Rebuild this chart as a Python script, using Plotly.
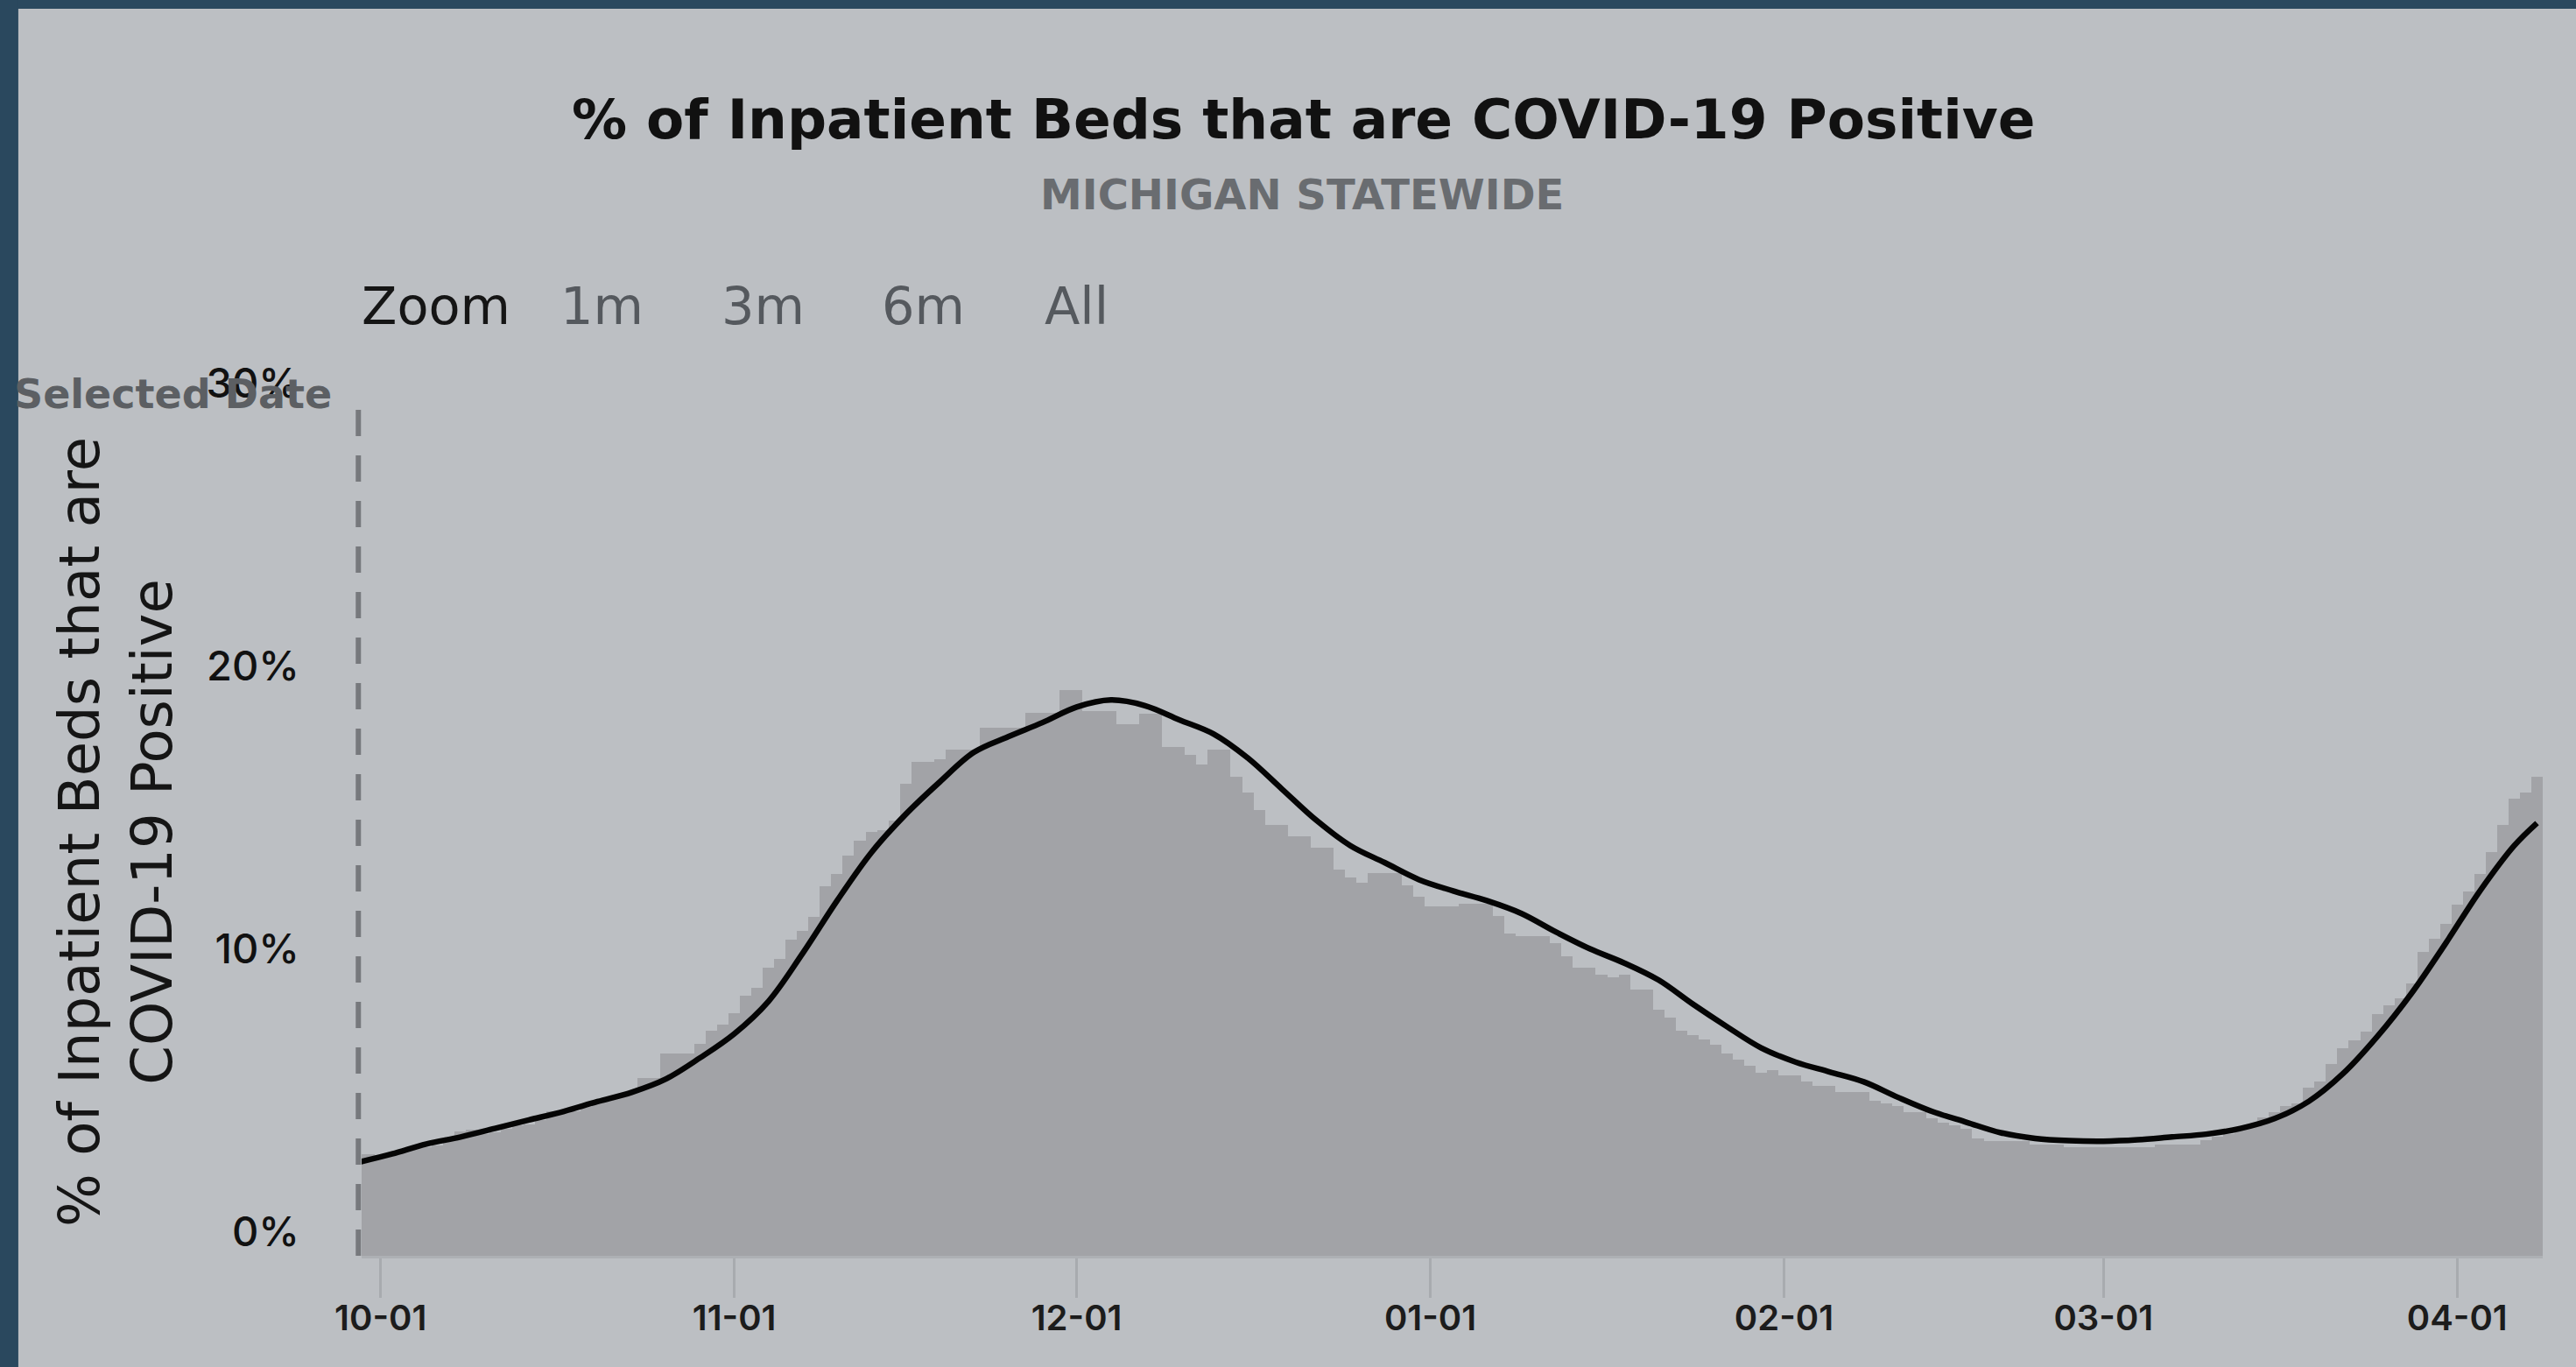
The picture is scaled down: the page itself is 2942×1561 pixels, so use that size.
import pandas as pd
import plotly.graph_objects as go

# ---------------- data ----------------
day_first = "2020-09-29"
day_last = "2021-04-08"

# daily % of inpatient beds COVID-19 positive (one value per day, 2020-09-29 .. 2021-04-08)
daily_pct = [
    3.6, 3.6, 3.55, 3.6, 3.7, 3.8, 3.85, 3.9, 4.1, 4.4,
    4.45, 4.3, 4.35, 4.5, 4.6, 4.65, 4.8, 5.1, 5.15, 5.1,
    5.25, 5.4, 5.5, 5.6, 5.75, 6.3, 6.3, 7.15, 7.15, 7.15,
    7.5, 7.96, 8.17, 8.58, 9.2, 9.47, 10.19, 10.5, 11.17, 11.5,
    11.98, 13.07, 13.5, 14.15, 14.67, 15.0, 15.04, 15.4, 16.69, 17.46,
    17.46, 17.56, 17.9, 17.9, 17.9, 18.68, 18.68, 18.68, 18.68, 19.2,
    19.2, 19.2, 19.99, 19.99, 19.27, 19.27, 19.27, 18.8, 18.8, 19.16,
    19.16, 17.99, 17.99, 17.72, 17.36, 17.9, 17.9, 16.94, 16.38, 15.76,
    15.24, 15.24, 14.83, 14.83, 14.42, 14.42, 13.65, 13.38, 13.18, 13.54,
    13.54, 13.54, 13.1, 12.7, 12.35, 12.35, 12.35, 12.45, 12.45, 12.45,
    12.0, 11.4, 11.3, 11.3, 11.3, 11.05, 10.6, 10.19, 10.19, 9.94,
    9.83, 9.94, 9.41, 9.41, 8.7, 8.42, 7.95, 7.8, 7.66, 7.45,
    7.15, 6.93, 6.73, 6.47, 6.57, 6.37, 6.37, 6.16, 6.0, 6.0,
    5.8, 5.8, 5.78, 5.49, 5.4, 5.29, 5.08, 5.08, 4.85, 4.7,
    4.6, 4.5, 4.15, 4.05, 4.05, 4.05, 4.05, 3.94, 3.94, 3.94,
    3.84, 3.84, 3.84, 3.84, 3.84, 3.84, 3.84, 3.84, 3.94, 3.94,
    3.94, 3.94, 4.1, 4.2, 4.3, 4.45, 4.6, 4.9, 5.08, 5.29,
    5.39, 5.95, 6.16, 6.78, 7.35, 7.62, 7.93, 8.54, 8.85, 9.1,
    9.63, 10.75, 11.22, 11.73, 12.41, 12.88, 13.5, 14.27, 15.24, 16.17,
    16.38, 16.94,
]

# 7-day average line, read every third day (plus the last day)
avg_pct = [
    3.3, 3.6, 3.95, 4.2, 4.5, 4.8, 5.1, 5.45, 5.78, 6.25,
    7.0, 7.85, 9.0, 10.7, 12.55, 14.25, 15.6, 16.75, 17.8, 18.35,
    18.85, 19.4, 19.65, 19.45, 18.95, 18.45, 17.6, 16.5, 15.4, 14.5,
    13.9, 13.3, 12.9, 12.55, 12.1, 11.45, 10.85, 10.35, 9.75, 8.9,
    8.1, 7.35, 6.85, 6.5, 6.15, 5.6, 5.1, 4.72, 4.35, 4.15,
    4.07, 4.05, 4.1, 4.2, 4.3, 4.5, 4.85, 5.46, 6.44, 7.75,
    9.28, 11.05, 12.9, 14.5, 15.3,
]

tick_dates = ["2020-10-01", "2020-11-01", "2020-12-01", "2021-01-01",
              "2021-02-01", "2021-03-01", "2021-04-01"]
tick_labels = ["10-01", "11-01", "12-01", "01-01", "02-01", "03-01", "04-01"]
y_tick_vals = [0, 10, 20, 30]
y_tick_labels = ["0%", "10%", "20%", "30%"]
selected_date = "2020-09-29"
range_buttons = ["1m", "3m", "6m", "All"]

title_text = "% of Inpatient Beds that are COVID-19 Positive"
subtitle_text = "MICHIGAN STATEWIDE"
y_title_text = "% of Inpatient Beds that are<br>COVID-19 Positive"

# ---------------- build ----------------
daily_dates = pd.date_range(day_first, day_last, freq="D")
avg_dates = list(daily_dates[::3]) + [daily_dates[-1]]

BG = "#bcbfc3"
AREA = "#a2a3a7"
NAVY = "#2a485e"

fig = go.Figure()
fig.add_trace(go.Bar(
    x=daily_dates, y=daily_pct, width=86400000,
    marker=dict(color=AREA, line=dict(width=0)),
    hoverinfo="skip",
))
fig.add_trace(go.Scatter(
    x=avg_dates, y=avg_pct, mode="lines",
    line=dict(color="#050505", width=6.5, shape="spline", smoothing=1.0),
    hoverinfo="skip",
))

# selected date marker (just left of the plotted range)
fig.add_shape(type="line", xref="paper", yref="paper",
              x0=-0.0015, x1=-0.0015, y0=0, y1=1,
              line=dict(color="#77797d", width=6, dash="30px,22px"))

# page frame (dark border at top and left)
fig.add_shape(type="rect", xref="paper", yref="paper", x0=-0.3, x1=1.1, y0=1.4696, y1=1.6,
              fillcolor=NAVY, line=dict(width=0), layer="above")
fig.add_shape(type="rect", xref="paper", yref="paper", x0=-0.3, x1=-0.1574, y0=-0.3, y1=1.6,
              fillcolor=NAVY, line=dict(width=0), layer="above")

ann = []
ann.append(dict(text=title_text, xref="paper", yref="paper", x=0.4320, y=1.3395,
                xanchor="center", yanchor="middle", showarrow=False,
                font=dict(family="DejaVu Sans", size=63, color="#111111", weight="bold")))
ann.append(dict(text=subtitle_text, xref="paper", yref="paper", x=0.4312, y=1.2503,
                xanchor="center", yanchor="middle", showarrow=False,
                font=dict(family="DejaVu Sans", size=48, color="#696c70", weight="bold")))
ann.append(dict(text="Zoom", xref="paper", yref="paper", x=-0.001, y=1.1187,
                xanchor="left", yanchor="middle", showarrow=False,
                font=dict(family="DejaVu Sans", size=59, color="#151515")))
for lbl, xp in zip(range_buttons, [0.1100, 0.1839, 0.2577, 0.3276]):
    ann.append(dict(text=lbl, xref="paper", yref="paper", x=xp, y=1.1187,
                    xanchor="center", yanchor="middle", showarrow=False,
                    font=dict(family="DejaVu Sans", size=59, color="#55595e")))
ann.append(dict(text="Selected Date", xref="paper", yref="paper", x=-0.0128, y=1.0155,
                xanchor="right", yanchor="middle", showarrow=False,
                font=dict(family="DejaVu Sans", size=46, color="#5c5f63", weight="bold")))
ann.append(dict(text=y_title_text, xref="paper", yref="paper", x=-0.1124, y=0.4995,
                xanchor="center", yanchor="middle", textangle=-90, showarrow=False,
                font=dict(family="DejaVu Sans", size=64, color="#151515")))

fig.update_layout(
    width=2942, height=1561,
    margin=dict(l=413, r=38, t=465, b=127),
    paper_bgcolor=BG, plot_bgcolor=BG,
    showlegend=False, bargap=0,
    annotations=ann,
    xaxis=dict(
        type="date", range=["2020-09-29 08:00", "2021-04-08 12:00"],
        tickvals=tick_dates, ticktext=tick_labels,
        ticks="outside", ticklen=45, tickwidth=3, tickcolor="#a8abaf",
        ticklabelstandoff=-11,
        showgrid=False, zeroline=False,
        showline=True, linecolor="#adb0b4", linewidth=3,
        tickfont=dict(family="Inter", size=40, color="#1c1c1c", weight=600),
    ),
    yaxis=dict(
        range=[0, 30], tickvals=y_tick_vals, ticktext=y_tick_labels,
        showgrid=False, zeroline=False, showline=False, ticks="",
        ticklabelshift=-27, ticklabelstandoff=70,
        tickfont=dict(family="Inter", size=47, color="#111111", weight=500),
    ),
)

fig.write_html(
    "out.html",
    config={"displayModeBar": False},
    post_script="document.body.style.margin='0px';document.body.style.overflow='hidden';",
)
